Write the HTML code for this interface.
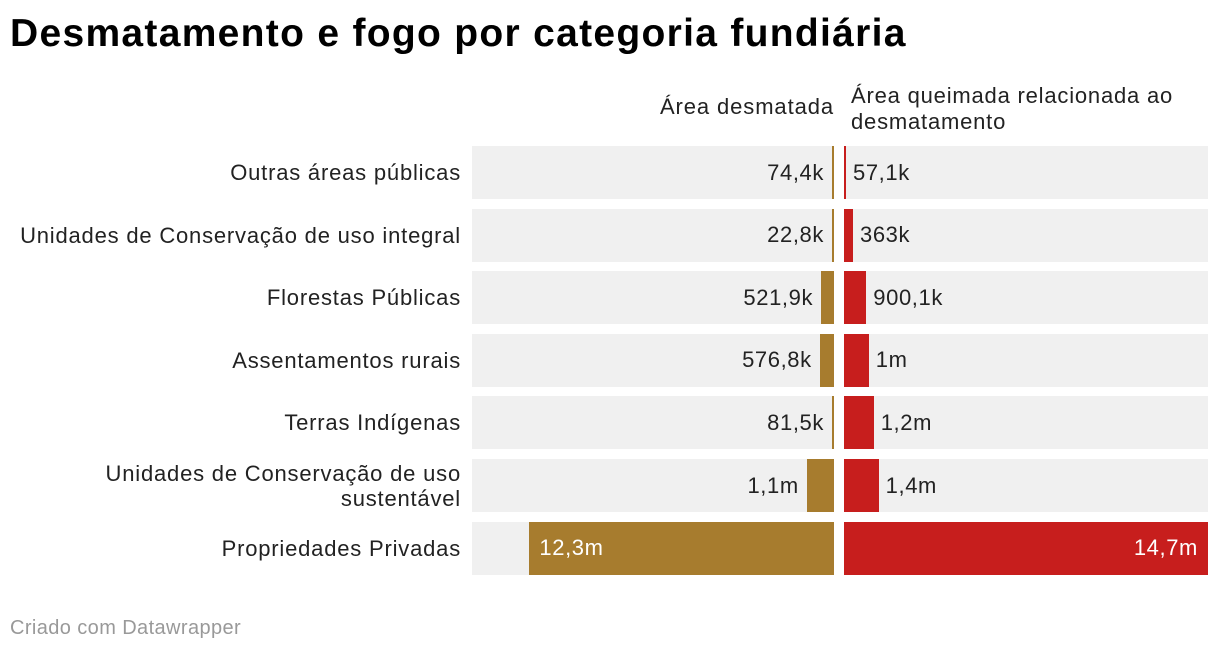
<!DOCTYPE html>
<html><head><meta charset="utf-8"><style>
body{margin:0;width:1220px;height:652px;background:#fff;font-family:"Liberation Sans",sans-serif;position:relative;overflow:hidden;color:#222}
.abs{position:absolute}
h1{position:absolute;left:10px;top:12px;margin:0;font-size:39px;font-weight:bold;color:#000;letter-spacing:1.3px}
.lab{font-size:22px;letter-spacing:0.8px;text-align:right;width:460px;left:1px;line-height:25px}
.val{font-size:22px;letter-spacing:0.6px;line-height:24px;white-space:nowrap}
</style></head><body>
<h1>Desmatamento e fogo por categoria fundiária</h1>
<div class="abs val" style="right:386px;top:95px;letter-spacing:0.9px">Área desmatada</div>
<div class="abs val" style="left:851px;top:83px;line-height:26px;letter-spacing:0.8px">Área queimada relacionada ao<br>desmatamento</div>
<div id="chart"></div>
<div class="abs" style="left:10px;top:617px;font-size:20px;letter-spacing:0.4px;color:#999">Criado com Datawrapper</div>
<script>
const categories=["Outras áreas públicas","Unidades de Conservação de uso integral","Florestas Públicas","Assentamentos rurais","Terras Indígenas","Unidades de Conservação de uso<br>sustentável","Propriedades Privadas"];
const desmatada=[0.0744,0.0228,0.5219,0.5768,0.0815,1.1,12.3];
const queimada=[0.0571,0.363,0.9001,1.0,1.2,1.4,14.7];
const desmatadaLabels=["74,4k","22,8k","521,9k","576,8k","81,5k","1,1m","12,3m"];
const queimadaLabels=["57,1k","363k","900,1k","1m","1,2m","1,4m","14,7m"];
const maxV=14.7;
const c=document.getElementById('chart');
function sx(v){return v/maxV*364;}
categories.forEach((cat,i)=>{
  const y=146+i*62.6,h=53;
  const lab=document.createElement('div');lab.className='abs lab';
  lab.style.top=(y+h/2-(cat.includes('<br>')?25:12.5))+'px';lab.innerHTML=cat;
  
  
  c.appendChild(lab);
  const bg1=document.createElement('div');bg1.className='abs';
  Object.assign(bg1.style,{left:'472px',top:y+'px',width:'362px',height:h+'px',background:'#f0f0f0'});
  
  
  c.appendChild(bg1);
  const bg2=document.createElement('div');bg2.className='abs';
  Object.assign(bg2.style,{left:'844px',top:y+'px',width:'364px',height:h+'px',background:'#f0f0f0'});
  
  
  c.appendChild(bg2);
  const w1=Math.max(2,sx(desmatada[i]));
  const b1=document.createElement('div');b1.className='abs';
  Object.assign(b1.style,{left:(834-w1)+'px',top:y+'px',width:w1+'px',height:h+'px',background:'#a77c2e'});
  
  
  c.appendChild(b1);
  const w2=Math.max(2,sx(queimada[i]));
  const b2=document.createElement('div');b2.className='abs';
  Object.assign(b2.style,{left:'844px',top:y+'px',width:w2+'px',height:h+'px',background:'#c71e1d'});
  
  
  c.appendChild(b2);
  const v1=document.createElement('div');v1.className='abs val';v1.textContent=desmatadaLabels[i];
  v1.style.top=(y+h/2-12)+'px';
  if(w1>100){v1.style.left=(834-w1+10)+'px';v1.style.color='#fff';}
  else{v1.style.right=(1220-(834-w1)+8)+'px';}
  
  
  c.appendChild(v1);
  const v2=document.createElement('div');v2.className='abs val';v2.textContent=queimadaLabels[i];
  v2.style.top=(y+h/2-12)+'px';
  if(w2>100){v2.style.right=(1220-(844+w2)+10)+'px';v2.style.color='#fff';}
  else{v2.style.left=(844+w2+7)+'px';}
  
  
  c.appendChild(v2);
});
</script>
</body></html>
